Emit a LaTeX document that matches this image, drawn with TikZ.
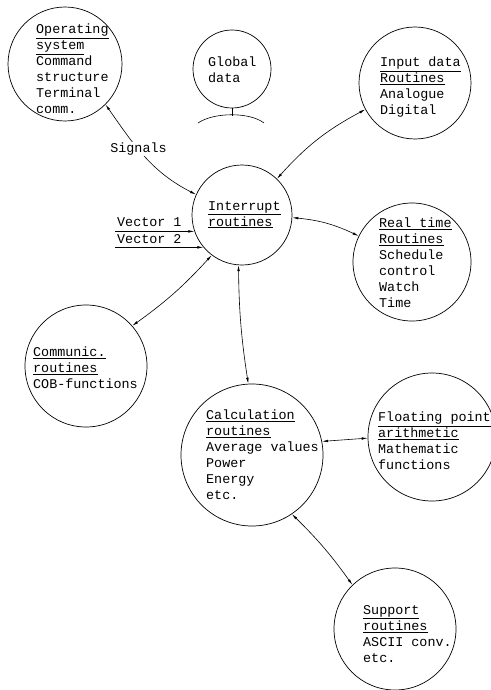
\documentclass[tikz,border=0pt]{standalone}
\usepackage{fontspec}
\newfontfamily\plotter{Liberation Mono}
\usetikzlibrary{arrows.meta}

\tikzset{
  blob/.style={circle, draw, line width=0.7pt, inner sep=0pt, minimum size=#1},
  txt/.style={anchor=north west, inner sep=0pt, align=left,
    font=\plotter\fontsize{13.4}{16}\selectfont},
  link/.style={line width=0.6pt,
    {Latex[length=6pt,width=2.6pt]}-{Latex[length=6pt,width=2.6pt]}},
  feed/.style={line width=0.6pt, -{Latex[length=6pt,width=2.6pt]}}
}

\begin{document}
\begin{tikzpicture}[x=1pt,y=-1pt]
    \useasboundingbox (0,0) rectangle (490,690);

    % circles
    \node[blob=114] (opsys)  at (65,64)   {};
    \node[blob=78]  (glob)   at (232,69)  {};
    \node[blob=112] (inp)    at (415,83)  {};
    \node[blob=100] (intr)   at (242,215) {};
    \node[blob=118] (rtime)  at (412,262) {};
    \node[blob=122] (comm)   at (86,366)  {};
    \node[blob=142] (calc)   at (252,455) {};
    \node[blob=128] (fpoint) at (432,437) {};
    \node[blob=122] (supp)   at (395,629) {};

    % texts
    \node[txt] (opsys-t) at (36,24) {\underline{Operating}\\\underline{system}\\Command\\structure\\Terminal\\comm.};
    \node[txt] (glob-t) at (208,57) {Global\\data};
    \node[txt] (inp-t) at (380,57) {\underline{Input data}\\\underline{Routines}\\Analogue\\Digital};
    \node[txt] (intr-t) at (208,201) {\underline{Interrupt}\\\underline{routines}};
    \node[txt] (rtime-t) at (379,218) {\underline{Real time}\\\underline{Routines}\\Schedule\\control\\Watch\\Time};
    \node[txt] (comm-t) at (33,347) {\underline{Communic.}\\\underline{routines}\\COB-functions};
    \node[txt] (calc-t) at (206,410) {\underline{Calculation}\\\underline{routines}\\Average values\\Power\\Energy\\etc.};
    \node[txt] (fpoint-t) at (378,412) {\underline{Floating point}\\\underline{arithmetic}\\Mathematic\\functions};
    \node[txt] (supp-t) at (363,605) {\underline{Support}\\\underline{routines}\\ASCII conv.\\etc.};
    \node[txt] (vec1) at (117,217) {Vector 1};
    \node[txt] (vec2) at (117,234) {Vector 2};

    % global data stand
    \draw[line width=0.6pt] (glob.south) -- ++(0,8) coordinate (foot);
    \draw[line width=0.6pt] (198,123) .. controls (214,112) and (250,112) .. (264,123);

    % connectors
    \draw[link] (opsys.-45) to[out=-55,in=153]
        node[pos=0.42, fill=white, inner sep=1pt, font=\plotter\fontsize{13.4}{16}\selectfont] (sig) {Signals}
        (intr.156);
    \draw[link] (inp.208) to[bend right=10] (intr.46);
    \draw[link] (intr.-3) to[bend left=10] (rtime.154);
    \draw[link] (comm.41) to[bend right=6] (intr.233);
    \draw[link] (intr.-94) to[bend right=4] (calc.93);
    \draw[link] (calc.11) -- (fpoint.181);
    \draw[link] (calc.-56) to[bend left=5] (supp.134);
    \draw[feed] ([xshift=-2pt]vec1.south west |- intr.199) -- (intr.199);
    \draw[feed] ([xshift=-2pt]vec2.south west |- intr.220) -- (intr.220);
\end{tikzpicture}
\end{document}
